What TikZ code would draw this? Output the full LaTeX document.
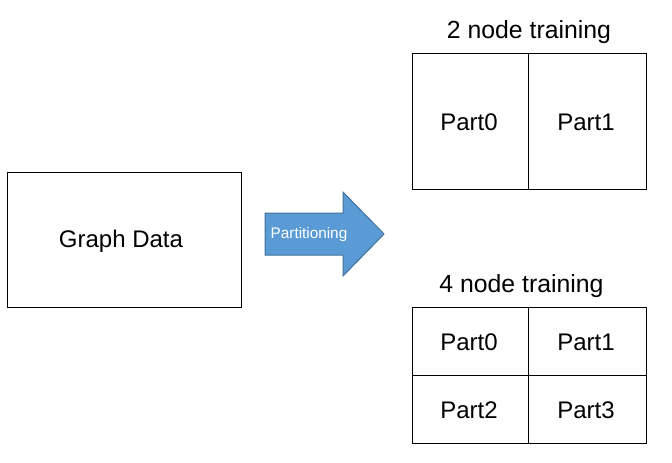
\documentclass[tikz,border=0pt]{standalone}
\usepackage{fontspec}
\setmainfont{Liberation Sans}
\definecolor{arrowfill}{HTML}{5B9BD5}
\definecolor{arrowline}{HTML}{41719C}
\begin{document}
\begin{tikzpicture}[x=1pt,y=-1pt,
  box/.style={draw=black,line width=1pt},
  lbl/.style={font=\fontsize{24}{26}\selectfont,text=black},
  ttl/.style={font=\fontsize{24.8}{26}\selectfont,text=black}]
\useasboundingbox (0,0) rectangle (672,463);
% Graph data
\draw[box] (7,172) rectangle (241,307);
\node[lbl] (gd) at (121,241.5) {Graph Data};
% arrow
\fill[arrowfill,draw=arrowline,line width=1pt] (265,213) -- (343,213) -- (343,192) -- (384,234) -- (343,276) -- (343,255) -- (265,255) -- cycle;
\node[text=white,font=\fontsize{15.3}{17}\selectfont] (part) at (309,235) {Partitioning};
% 2 node
\node[ttl] (t2) at (529,32.5) {2 node training};
\draw[box] (412,53) rectangle (646,189);
\draw[box] (528,53) -- (528,189);
\node[lbl] (a0) at (469,122) {Part0};
\node[lbl] (a1) at (586,122) {Part1};
% 4 node
\node[ttl] (t4) at (521.5,286.5) {4 node training};
\draw[box] (412,307) rectangle (646,443);
\draw[box] (528,307) -- (528,443);
\draw[box] (412,375) -- (646,375);
\node[lbl] (b0) at (469,342) {Part0};
\node[lbl] (b1) at (586,342) {Part1};
\node[lbl] (b2) at (469,410) {Part2};
\node[lbl] (b3) at (586,410) {Part3};
\end{tikzpicture}
\end{document}
